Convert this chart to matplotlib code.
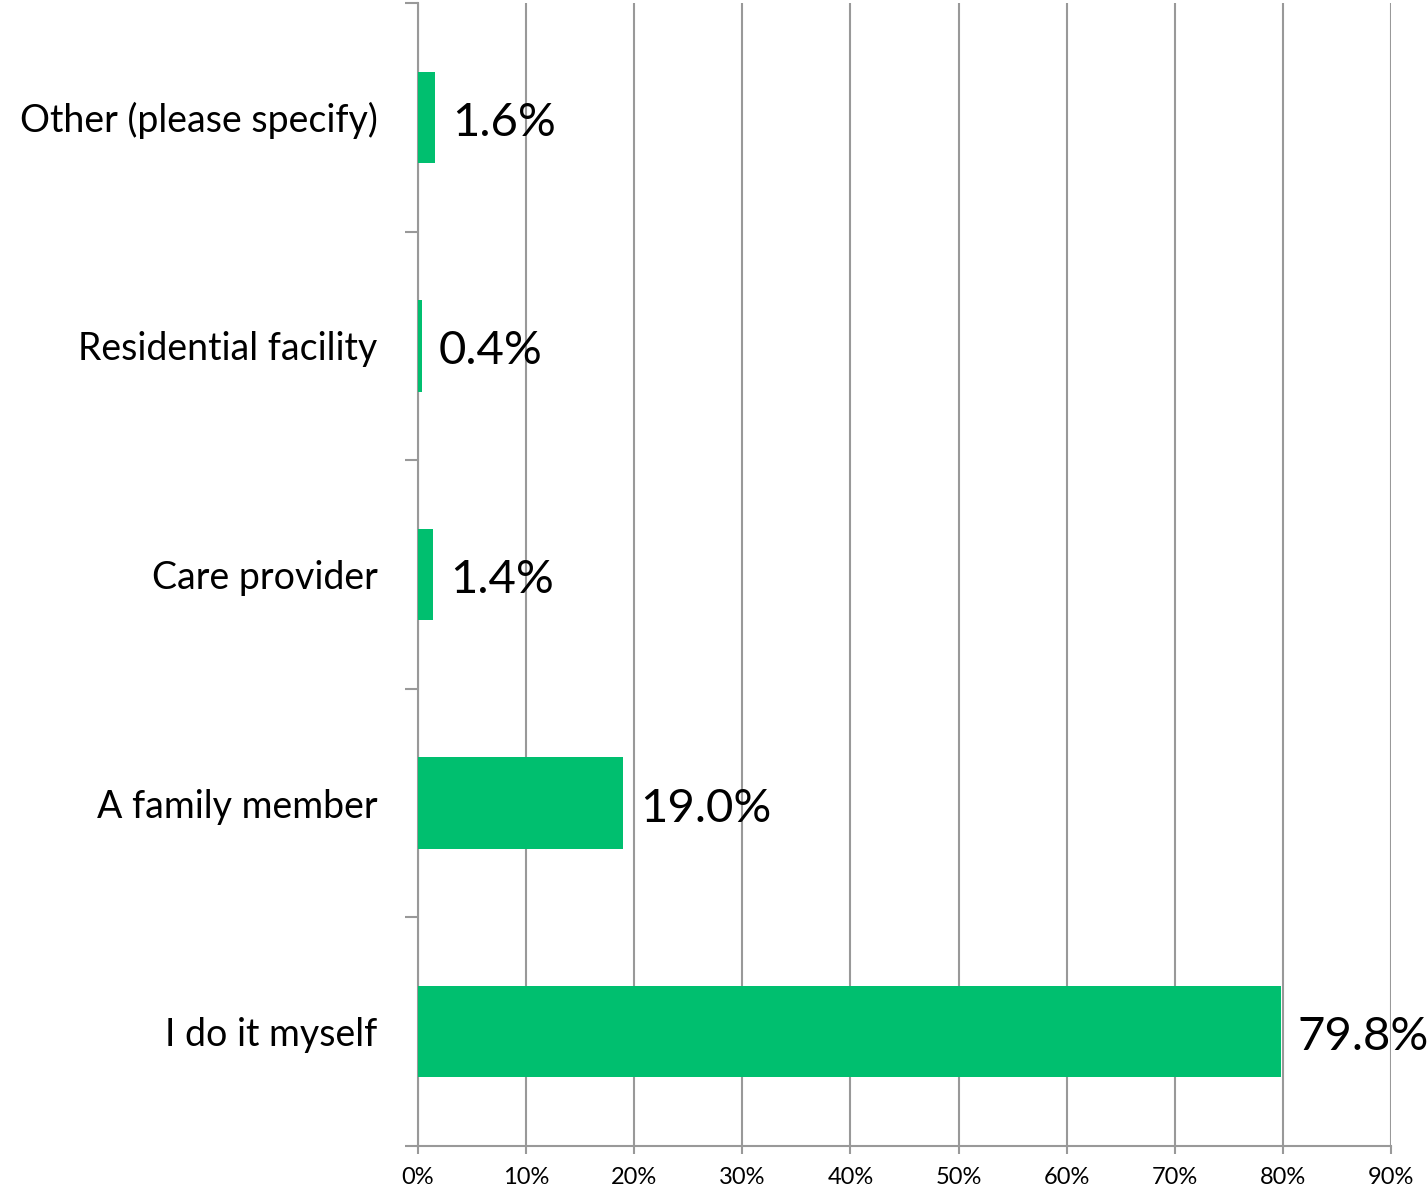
import matplotlib
matplotlib.use("Agg")
import matplotlib.pyplot as plt

categories = ["I do it myself", "A family member", "Care provider", "Residential facility", "Other (please specify)"]
values = [79.8, 19.0, 1.4, 0.4, 1.6]
xticks = [0, 10, 20, 30, 40, 50, 60, 70, 80, 90]
xticklabels = [f"{t}%" for t in xticks]

plt.rcParams['font.family'] = ['Lato', 'DejaVu Sans']
fig = plt.figure(figsize=(14.27, 11.93), dpi=100)
ax = fig.add_axes([418/1427, 1-1146/1193, (1391-418)/1427, (1146-3)/1193])

green = "#00BF6F"
gray = "#999999"
ypos = list(range(len(categories)))
ax.barh(ypos, values, height=0.4, color=green, zorder=3)
ax.set_xlim(0, 90)
ax.set_ylim(-0.5, len(categories)-0.5)
ax.set_xticks(xticks)
ax.set_xticklabels(xticklabels, fontsize=17)
ax.set_yticks([y - 0.5 for y in range(len(categories)+1)])
ax.set_yticklabels([])
ax.set_yticks(ypos, minor=True)
ax.set_yticklabels(categories, minor=True, fontsize=27)
ax.tick_params(axis='y', which='minor', length=0, pad=29)
ax.tick_params(axis='y', which='major', length=9.5, color=gray, width=1.5)
ax.tick_params(axis='x', length=6, color=gray, width=1.5, pad=9)
ax.grid(axis='x', color=gray, linewidth=1.5, zorder=0)
for s in ['top', 'right']:
    ax.spines[s].set_visible(False)
for s in ['left', 'bottom']:
    ax.spines[s].set_color(gray)
    ax.spines[s].set_linewidth(1.5)

for y, v in zip(ypos, values):
    ax.annotate(f"{v:.1f}%", xy=(v, y), xytext=(12, -4), textcoords='offset points',
                va='center', ha='left', fontsize=34, zorder=4)

fig.savefig("out.png", dpi=100)
